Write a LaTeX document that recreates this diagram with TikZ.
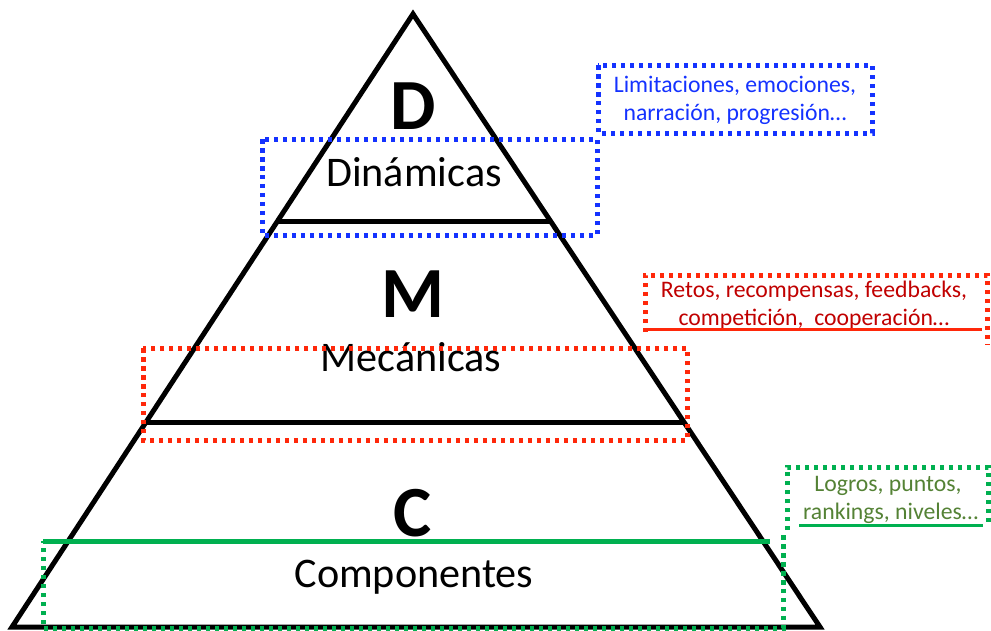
\documentclass[tikz,border=0pt]{standalone}
\usepackage{fontspec}
\setmainfont{Carlito}
\definecolor{dynblue}{RGB}{20,50,255}
\definecolor{mecred}{RGB}{255,40,10}
\definecolor{mectext}{RGB}{192,0,0}
\definecolor{compgreen}{RGB}{0,176,80}
\definecolor{comptext}{RGB}{84,130,53}
\tikzset{
	dotbox/.style = {line width=0.1cm, dash pattern=on 0.09cm off 0.09cm},
	bigletter/.style = {font=\fontsize{41}{41}\selectfont\bfseries},
	level/.style = {font=\fontsize{24}{26}\selectfont},
	info/.style = {font=\fontsize{13.5}{16}\selectfont, align=center}
}
\begin{document}
\begin{tikzpicture}[x=0.02cm, y=-0.02cm]
	
	\useasboundingbox (0,0) rectangle (991,630);
	
	% pyramid
	\draw[line width=0.1cm] (413,14) -- (12,627) -- (820,627) -- cycle;
	\draw[line width=0.1cm] (278,221) -- (552,221);
	\draw[line width=0.1cm] (146,422) -- (684,422);
	\draw[compgreen, line width=0.1cm] (43,541) -- (770,541);
	
	\node [bigletter] (D) at (413,106){D};
	\node [level] (Din) at (414,172){Dinámicas};
	\node [bigletter] (M) at (413,294){M};
	\node [level] (Mec) at (411,357){Mecánicas};
	\node [bigletter] (C) at (413,513){C};
	\node [level] (Comp) at (414,577){Componentes};
	
	% dinamicas
	\draw[dynblue, dotbox] (262,139) rectangle (597,235);
	\draw[dynblue, dotbox] (598,65) rectangle (872,133);
	\node [info, text = dynblue] (DinInfo) at (735,100)
		{Limitaciones, emociones,\\narración, progresión…};
	
	% mecanicas
	\draw[mecred, dotbox] (143,348) rectangle (687,440);
	\draw[mecred, dotbox] (645,332) -- (645,275) -- (987,275) -- (987,345);
	\node [info, text = mectext] (MecInfo) at (814,305)
		{Retos, recompensas, feedbacks,\\competición,\ \ cooperación…};
	\draw[mecred, line width=0.06cm] (648,329) -- (982,329);
	
	% componentes
	\draw[compgreen, dotbox] (783,535) -- (783,628) -- (43,628) -- (43,541);
	\draw[compgreen, dotbox] (787,530) -- (787,467) -- (988,467) -- (988,522);
	\node [info, text = comptext] (CompInfo) at (888,500)
		{Logros, puntos,\\\ rankings, niveles…};
	\draw[compgreen, line width=0.06cm] (799,525) -- (983,525);
	
\end{tikzpicture}
\end{document}
